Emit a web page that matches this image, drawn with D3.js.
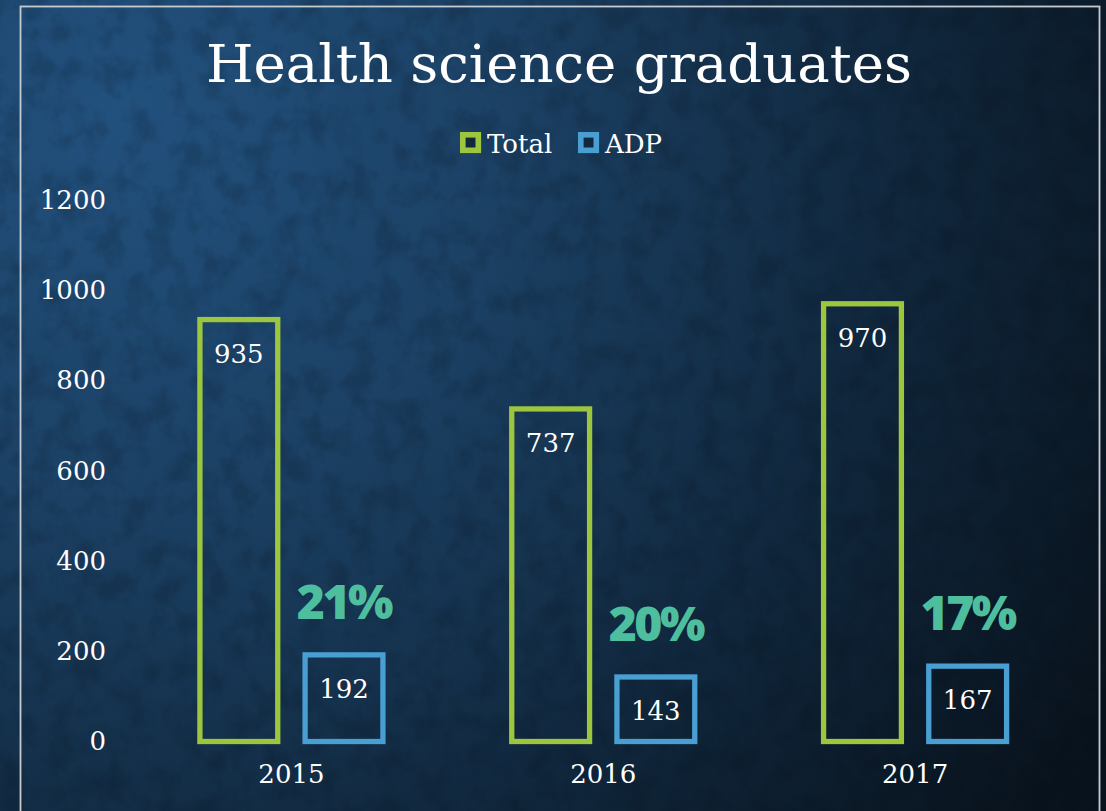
<!DOCTYPE html>
<html>
<head>
<meta charset="utf-8">
<script src="https://cdn.jsdelivr.net/npm/d3@7"></script>
<style>
  html, body { margin: 0; padding: 0; background: #0b1722; }
  svg { display: block; }
  text { fill: #fff; }
</style>
</head>
<body>
<svg id="chart" width="1106" height="811"></svg>
<script>
// chart data
const years = ['2015', '2016', '2017'];
const seriesNames = ['Total', 'ADP'];
const totalValues = [935, 737, 970];
const adpValues = [192, 143, 167];
const adpShareLabels = ['21%', '20%', '17%'];
const yTicks = [0, 200, 400, 600, 800, 1000, 1200];

const W = 1106, H = 811;
const serif = '"DejaVu Serif", serif';
const colors = {Total: '#9dc63f', ADP: '#4a9fd2'};
const shareColor = '#4dbf9e';

const svg = d3.select('#chart');
const defs = svg.append('defs');

// background: dark navy radial gradient + faint darker blotches
const grad = defs.append('radialGradient')
  .attr('id', 'bg')
  .attr('gradientUnits', 'userSpaceOnUse')
  .attr('cx', 120).attr('cy', 110).attr('r', 1150);
[[0, '#22517e'], [0.35, '#1b4063'], [0.7, '#10263b'], [1, '#09131d']].forEach(function(s) {
  grad.append('stop').attr('offset', s[0]).attr('stop-color', s[1]);
});

const noise = defs.append('filter').attr('id', 'grain')
  .attr('x', 0).attr('y', 0).attr('width', '100%').attr('height', '100%')
  .attr('color-interpolation-filters', 'sRGB');
noise.append('feTurbulence')
  .attr('type', 'fractalNoise')
  .attr('baseFrequency', '0.04 0.035')
  .attr('numOctaves', 4)
  .attr('seed', 11);
noise.append('feColorMatrix')
  .attr('type', 'matrix')
  .attr('values', '0 0 0 0 0.02  0 0 0 0 0.05  0 0 0 0 0.09  0 0 0 3 -1.3');

svg.append('rect').attr('width', W).attr('height', H).attr('fill', 'url(#bg)');
svg.append('rect').attr('width', W).attr('height', H)
  .attr('filter', 'url(#grain)').attr('opacity', 0.17);

// thin slide frame
svg.append('rect')
  .attr('x', 20.5).attr('y', 6.5)
  .attr('width', 1079).attr('height', 900)
  .attr('fill', 'none')
  .attr('stroke', '#c5cbd1')
  .attr('stroke-width', 1.8);

// title
svg.append('text')
  .attr('x', 559).attr('y', 82)
  .attr('text-anchor', 'middle')
  .style('font-family', serif)
  .attr('font-size', 52)
  .attr('textLength', 706)
  .attr('lengthAdjust', 'spacingAndGlyphs')
  .text('Health science graduates');

// scales
const x0 = d3.scaleBand().domain(years).range([135.5, 1071]).padding(0);
const groupW = 183;
const x1 = d3.scaleBand().domain(seriesNames)
  .range([(x0.bandwidth() - groupW) / 2, (x0.bandwidth() + groupW) / 2])
  .paddingInner(0.26).paddingOuter(0);
const y = d3.scaleLinear().domain([0, 1200]).range([741.5, 200]);

// y axis (labels only)
const yAxis = svg.append('g')
  .attr('transform', 'translate(106,0)')
  .call(d3.axisLeft(y).tickValues(yTicks).tickFormat(d3.format('d')).tickSize(0).tickPadding(0));
yAxis.select('.domain').remove();
yAxis.selectAll('text')
  .style('font-family', serif)
  .attr('font-size', 26)
  .attr('fill', '#fff');

// x axis (labels only)
const xAxis = svg.append('g')
  .attr('transform', 'translate(0,' + 765 + ')')
  .call(d3.axisBottom(x0).tickSize(0).tickPadding(0));
xAxis.select('.domain').remove();
xAxis.selectAll('text')
  .style('font-family', serif)
  .attr('font-size', 26)
  .attr('fill', '#fff');

// grouped data
const rows = years.map(function(yr, i) {
  return {year: yr, share: adpShareLabels[i],
    values: [{key: 'Total', value: totalValues[i]}, {key: 'ADP', value: adpValues[i]}]};
});

const groups = svg.selectAll('g.year')
  .data(rows).enter().append('g')
  .attr('class', 'year')
  .attr('transform', function(d) { return 'translate(' + x0(d.year) + ',0)'; });

groups.selectAll('rect.bar')
  .data(function(d) { return d.values; })
  .enter().append('rect')
  .attr('class', 'bar')
  .attr('x', function(d) { return x1(d.key); })
  .attr('y', function(d) { return y(d.value); })
  .attr('width', x1.bandwidth())
  .attr('height', function(d) { return y(0) - y(d.value); })
  .attr('fill', 'none')
  .attr('stroke', function(d) { return colors[d.key]; })
  .attr('stroke-width', 5.3);

groups.selectAll('text.val')
  .data(function(d) { return d.values; })
  .enter().append('text')
  .attr('class', 'val')
  .attr('x', function(d) { return x1(d.key) + x1.bandwidth() / 2; })
  .attr('y', function(d) { return y(d.value) + 43; })
  .attr('text-anchor', 'middle')
  .style('font-family', serif)
  .attr('font-size', 26)
  .text(function(d) { return d.value; });

// ADP share of total, above the ADP bar
groups.append('text')
  .attr('class', 'share')
  .attr('x', x1('ADP') + x1.bandwidth() / 2)
  .attr('y', function(d) { return y(d.values[1].value) - 36; })
  .attr('text-anchor', 'middle')
  .style('font-family', '"Open Sans", sans-serif')
  .style('font-weight', 800)
  .attr('font-size', 48)
  .attr('letter-spacing', -2.5)
  .style('fill', shareColor)
  .text(function(d) { return d.share; });

// legend
const legendItems = [
  {key: 'Total', sx: 460, tx: 487},
  {key: 'ADP', sx: 578, tx: 605}
];
const legend = svg.append('g').attr('class', 'legend');
legend.selectAll('rect')
  .data(legendItems).enter().append('rect')
  .attr('x', function(d) { return d.sx + 2.8; })
  .attr('y', 134.8)
  .attr('width', 15.5).attr('height', 15.5)
  .attr('fill', '#12283d')
  .attr('stroke', function(d) { return colors[d.key]; })
  .attr('stroke-width', 5.6);
legend.selectAll('text')
  .data(legendItems).enter().append('text')
  .attr('x', function(d) { return d.tx; })
  .attr('y', 153)
  .style('font-family', serif)
  .attr('font-size', 26)
  .text(function(d) { return d.key; });
</script>
</body>
</html>
